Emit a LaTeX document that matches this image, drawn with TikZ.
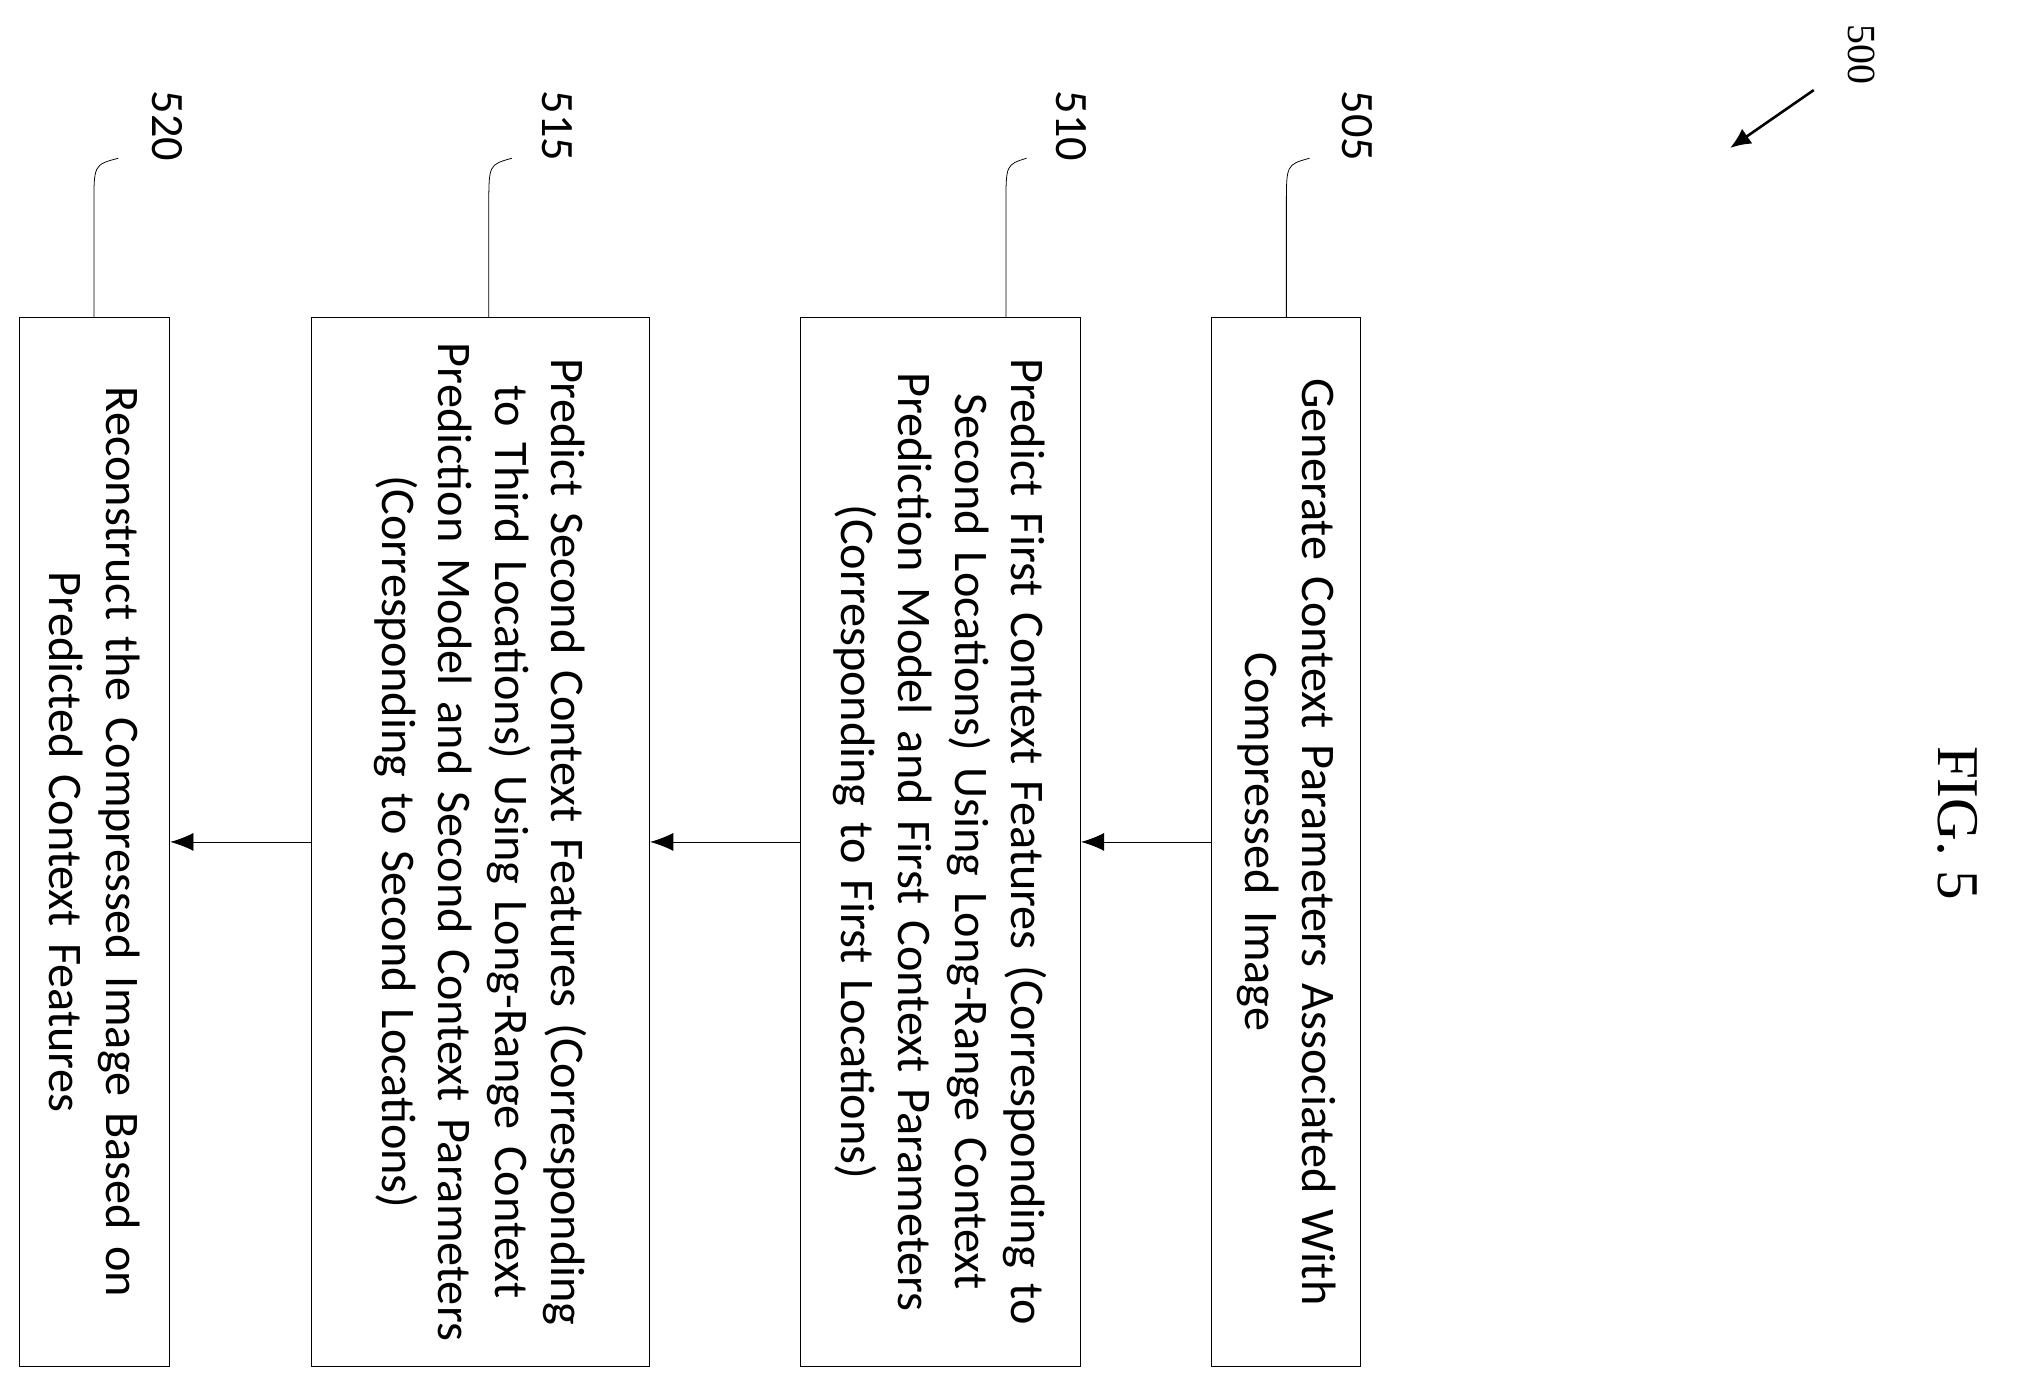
\documentclass[tikz,border=0pt]{standalone}
\usepackage{fontspec}
\setmainfont{Carlito}
\newfontfamily\seriffont{Liberation Serif}
\usetikzlibrary{arrows.meta}
\begin{document}
\begin{tikzpicture}[x=1pt,y=-1pt,
  box/.style={draw,line width=0.8pt,rotate=-90,minimum width=815pt,inner sep=0pt,
    align=center,text width=800pt,font=\fontsize{37.5}{44}\selectfont},
  conn/.style={line width=0.6pt,-{Latex[length=18pt,width=14pt]}},
  num/.style={rotate=-90,font=\fontsize{36}{38}\selectfont},
  lead/.style={line width=0.6pt}]
\useasboundingbox (0,0) rectangle (1568,1080);
\node[box,minimum height=116pt] (b505) at (1000,654.5) {Generate Context Parameters Associated With\\Compressed Image};
\node[box,minimum height=218pt] (b510) at (731,654.5) {Predict First Context Features (Corresponding to\\Second Locations) Using Long-Range Context\\Prediction Model and First Context Parameters\\(Corresponding to First Locations)};
\node[box,minimum height=263pt] (b515) at (373.5,654.5) {Predict Second Context Features (Corresponding\\to Third Locations) Using Long-Range Context\\Prediction Model and Second Context Parameters\\(Corresponding to Second Locations)};
\node[box,minimum height=117pt] (b520) at (73.5,654.5) {Reconstruct the Compressed Image Based on\\Predicted Context Features};
\draw[conn] (b505.south) -- (b510.north);
\draw[conn] (b510.south) -- (b515.north);
\draw[conn] (b515.south) -- (b520.north);
\node[num] (l505) at (1055,98) {505};
\node[num] (l510) at (833,98) {510};
\node[num] (l515) at (433,98) {515};
\node[num] (l520) at (130,98) {520};
\coordinate (t505) at (1000,247); \coordinate (t510) at (782,247);
\coordinate (t515) at (380,247); \coordinate (t520) at (73,247);
\draw[lead] (t505) -- (1000,160) .. controls (1000,128) .. (1018,123);
\draw[lead] (t510) -- (782,160) .. controls (782,128) .. (798,123);
\draw[lead] (t515) -- (380,160) .. controls (380,128) .. (398,123);
\draw[lead] (t520) -- (73,160) .. controls (73,128) .. (92,123);
\node[rotate=-90,font=\seriffont\fontsize{46}{48}\selectfont] (fig) at (1522,640) {FIG. 5};
\node[rotate=-90,font=\seriffont\fontsize{31}{33}\selectfont] (l500) at (1447,42) {500};
\coordinate (a500) at (1410,70);
\draw[line width=2pt,-{Latex[length=16pt,width=14pt]}] (a500) -- (1345,115);
\end{tikzpicture}
\end{document}
